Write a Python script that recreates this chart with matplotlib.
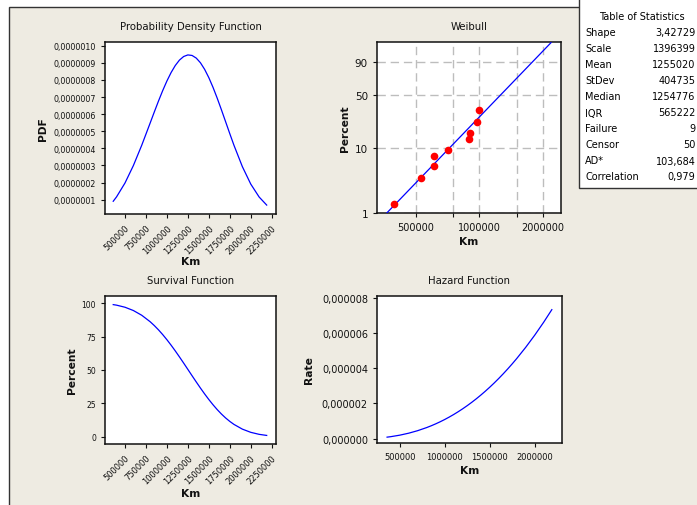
import numpy as np
import matplotlib
matplotlib.use("Agg")
import matplotlib.pyplot as plt
from matplotlib.patches import Rectangle

plt.rcParams["font.family"] = "DejaVu Sans"

# curve values (Km -> PDF, survival %, hazard)
km = [360000, 400000, 500000, 600000, 700000, 800000, 850000, 900000, 950000,
      1000000, 1050000, 1100000, 1150000, 1200000, 1250000, 1300000, 1350000,
      1400000, 1450000, 1500000, 1550000, 1600000, 1650000, 1700000, 1750000,
      1800000, 1900000, 2000000, 2100000, 2190000]
pdf = [0.905e-7, 1.164e-7, 1.970e-7, 2.989e-7, 4.181e-7, 5.475e-7, 6.129e-7,
       6.769e-7, 7.377e-7, 7.937e-7, 8.432e-7, 8.845e-7, 9.163e-7, 9.372e-7,
       9.464e-7, 9.433e-7, 9.279e-7, 9.006e-7, 8.620e-7, 8.135e-7, 7.567e-7,
       6.934e-7, 6.258e-7, 5.559e-7, 4.859e-7, 4.176e-7, 2.929e-7, 1.910e-7,
       1.153e-7, 0.682e-7]
survival = [99.04, 98.63, 97.08, 94.62, 91.05, 86.23, 83.32, 80.10, 76.56,
            72.73, 68.63, 64.31, 59.80, 55.17, 50.45, 45.72, 41.04, 36.46,
            32.05, 27.86, 23.93, 20.30, 17.00, 14.05, 11.45, 9.19, 5.65, 3.25,
            1.74, 0.93]
hazard = [0.0914e-6, 0.1180e-6, 0.2029e-6, 0.3158e-6, 0.4592e-6, 0.6349e-6,
          0.7356e-6, 0.8451e-6, 0.9636e-6, 1.0913e-6, 1.2286e-6, 1.3754e-6,
          1.5321e-6, 1.6989e-6, 1.8758e-6, 2.0632e-6, 2.2611e-6, 2.4698e-6,
          2.6894e-6, 2.9200e-6, 3.1619e-6, 3.4152e-6, 3.6801e-6, 3.9566e-6,
          4.2451e-6, 4.5455e-6, 5.1830e-6, 5.8702e-6, 6.6081e-6, 7.3167e-6]

# weibull probability plot
fail_km = [395000, 532000, 607000, 607000, 711000, 892000, 905000, 976000, 991000]
fail_pct = [1.38, 3.45, 5.38, 7.47, 9.29, 13.2, 16.6, 23.5, 33.5]
fit_km = [364850, 2180300]
fit_pct = [1.0, 99.0]

# ticks
lin_xticks = [500000, 750000, 1000000, 1250000, 1500000, 1750000, 2000000, 2250000]
pdf_yticks = [1e-7, 2e-7, 3e-7, 4e-7, 5e-7, 6e-7, 7e-7, 8e-7, 9e-7, 10e-7]
surv_yticks = [0, 25, 50, 75, 100]
haz_xticks = [500000, 1000000, 1500000, 2000000]
haz_yticks = [0, 2e-6, 4e-6, 6e-6, 8e-6]
wb_xticks = [500000, 750000, 1000000, 1500000, 2000000]
wb_xlabels = ["500000", "", "1000000", "", "2000000"]
wb_yticks = [1, 10, 50, 90]

stat_names = ["Shape", "Scale", "Mean", "StDev", "Median", "IQR",
              "Failure", "Censor", "AD*", "Correlation"]
stat_values = ["3,42729", "1396399", "1255020", "404735", "1254776", "565222",
               "9", "50", "103,684", "0,979"]

BEIGE = "#eeebe2"
BLUE = "#0000ff"
W, H = 697, 506


def comma(v, nd):
    return f"{v:.{nd}f}".replace(".", ",")


def box(l, t, r, b):
    # pixel box -> figure fraction rect
    return [l / W, 1 - b / H, (r - l) / W, (b - t) / H]


def style(ax):
    for s in ax.spines.values():
        s.set_linewidth(1.1)
        s.set_color("#111111")
    ax.tick_params(direction="out", length=3, width=0.8, colors="#111111",
                   top=False, right=False)
    ax.set_facecolor("white")


def wb_fwd(p):
    p = np.clip(np.asarray(p, dtype=float), 1e-6, 100 - 1e-6)
    return np.log(-np.log(1 - p / 100))


def wb_inv(z):
    return 100 * (1 - np.exp(-np.exp(z)))


fig = plt.figure(figsize=(6.97, 5.06), dpi=100, facecolor="white")
fig.add_artist(Rectangle((8.5 / W, -0.05), 1.1, 1 - 7.5 / H + 0.05,
                         transform=fig.transFigure, facecolor=BEIGE,
                         edgecolor="#333333", lw=1, zorder=-2))

title_kw = dict(fontsize=7.3, pad=9, color="#111111")
lab_kw = dict(fontsize=7.7, fontweight="bold", color="#111111")

# PDF
ax1 = fig.add_axes(box(105, 43, 276, 215))
style(ax1)
ax1.plot(km, pdf, color=BLUE, lw=0.9)
ax1.set_xlim(262000, 2301000)
ax1.set_ylim(1.6e-8, 1.022e-6)
ax1.set_xticks(lin_xticks)
ax1.set_xticklabels([str(v) for v in lin_xticks], rotation=45, ha="right",
                    rotation_mode="anchor", fontsize=6)
ax1.set_yticks(pdf_yticks)
ax1.set_yticklabels([comma(v, 7) for v in pdf_yticks], fontsize=5.7)
ax1.set_title("Probability Density Function", **title_kw)
ax1.set_ylabel("PDF", **lab_kw)
ax1.yaxis.set_label_coords(-0.333, 0.5)
ax1.set_xlabel("Km", va="top", **lab_kw)
ax1.xaxis.set_label_coords(0.5, -0.244)

# Weibull probability plot
ax2 = fig.add_axes(box(377, 43, 561, 214))
style(ax2)
ax2.set_xscale("log")
ax2.set_yscale("function", functions=(wb_fwd, wb_inv))
ax2.plot(fit_km, fit_pct, color=BLUE, lw=0.9, zorder=3)
ax2.plot(fail_km, fail_pct, "o", color="#ff0000", ms=5.5, mec="none", zorder=4)
ax2.set_xlim(328000, 2430000)
ax2.set_ylim(1, 99.1)
ax2.set_xticks(wb_xticks)
ax2.set_xticklabels(wb_xlabels, fontsize=7)
ax2.xaxis.set_minor_locator(matplotlib.ticker.NullLocator())
ax2.set_yticks(wb_yticks)
ax2.set_yticklabels([str(v) for v in wb_yticks], fontsize=7.5)
ax2.yaxis.set_minor_locator(matplotlib.ticker.NullLocator())
ax2.grid(True, color="#bdbdbd", lw=1, linestyle=(0, (6, 3.5)))
ax2.set_axisbelow(True)
ax2.set_title("Weibull", **title_kw)
ax2.set_ylabel("Percent", **lab_kw)
ax2.yaxis.set_label_coords(-0.147, 0.5)
ax2.set_xlabel("Km", va="top", **lab_kw)
ax2.xaxis.set_label_coords(0.5, -0.1345)

# Survival
ax3 = fig.add_axes(box(105, 297, 276, 445))
style(ax3)
ax3.plot(km, survival, color=BLUE, lw=0.9)
ax3.set_xlim(262000, 2301000)
ax3.set_ylim(-5.5, 105.5)
ax3.set_xticks(lin_xticks)
ax3.set_xticklabels([str(v) for v in lin_xticks], rotation=45, ha="right",
                    rotation_mode="anchor", fontsize=6)
ax3.set_yticks(surv_yticks)
ax3.set_yticklabels([str(v) for v in surv_yticks], fontsize=5.5)
ax3.set_title("Survival Function", **title_kw)
ax3.set_ylabel("Percent", **lab_kw)
ax3.yaxis.set_label_coords(-0.164, 0.5)
ax3.set_xlabel("Km", va="top", **lab_kw)
ax3.xaxis.set_label_coords(0.5, -0.297)

# Hazard
ax4 = fig.add_axes(box(377, 297, 562, 444))
style(ax4)
ax4.plot(km, hazard, color=BLUE, lw=0.9)
ax4.set_xlim(248000, 2303000)
ax4.set_ylim(-0.24e-6, 8.09e-6)
ax4.set_xticks(haz_xticks)
ax4.set_xticklabels([str(v) for v in haz_xticks], fontsize=6)
ax4.set_yticks(haz_yticks)
ax4.set_yticklabels([comma(v, 6) for v in haz_yticks], fontsize=7)
ax4.set_title("Hazard Function", **title_kw)
ax4.set_ylabel("Rate", **lab_kw)
ax4.yaxis.set_label_coords(-0.341, 0.5)
ax4.set_xlabel("Km", va="top", **lab_kw)
ax4.xaxis.set_label_coords(0.5, -0.150)

# table of statistics
fig.add_artist(Rectangle((578.5 / W, 1 - 188.5 / H), 0.3, 0.5,
                         transform=fig.transFigure, facecolor="white",
                         edgecolor="#333333", lw=1, zorder=5))
fig.text(641.5 / W, 1 - 17.5 / H, "Table of Statistics", fontsize=7,
         ha="center", va="center", zorder=6)
for i, (name, val) in enumerate(zip(stat_names, stat_values)):
    y = 1 - (33.5 + 16 * i) / H
    fig.text(585 / W, y, name, fontsize=7, ha="left", va="center", zorder=6)
    fig.text(695.5 / W, y, val, fontsize=7, ha="right", va="center", zorder=6)

fig.savefig("out.png", dpi=100, facecolor="white")
